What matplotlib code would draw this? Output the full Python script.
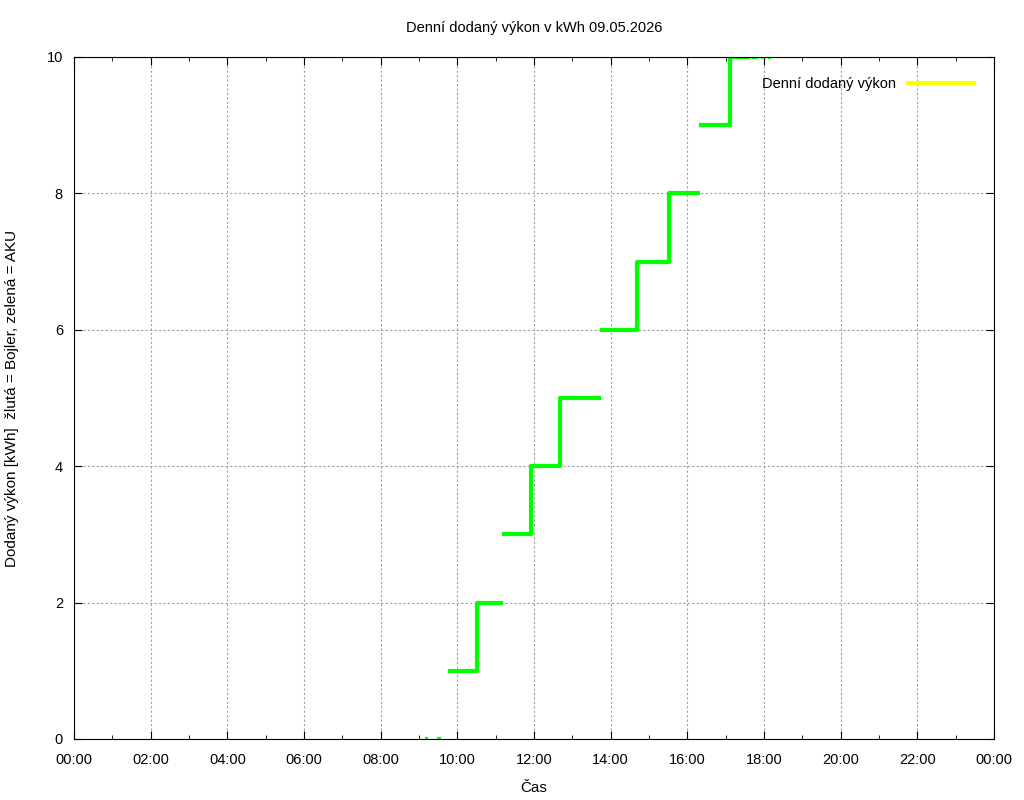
import numpy as np
import matplotlib
matplotlib.use('Agg')
import matplotlib.pyplot as plt

plt.rcParams['font.family'] = ['Liberation Sans', 'DejaVu Sans']

# step groups: times in hours, values in kWh (NaN breaks the line)
times = [9.16, 9.24, np.nan,
         9.47, 9.57, np.nan,
         9.76, 10.51, 11.19, np.nan,
         11.17, 11.92, 12.68, 13.75, np.nan,
         13.72, 14.69, 15.52, 16.33, np.nan,
         16.30, 17.11, 17.63, np.nan,
         17.70, 17.85, np.nan,
         17.93, 17.98, np.nan,
         18.10, 18.18]
values = [0, 0, np.nan,
          0, 0, np.nan,
          1, 2, 2, np.nan,
          3, 4, 5, 5, np.nan,
          6, 7, 8, 8, np.nan,
          9, 10, 10, np.nan,
          10, 10, np.nan,
          10, 10, np.nan,
          10, 10]
tick_hours = list(range(0, 25, 2))
tick_labels = ['%02d:00' % (h % 24) for h in tick_hours]

fig = plt.figure(figsize=(10.24, 8.0), dpi=100)
ax = fig.add_axes([74/1024, 61/800, 920/1024, 682/800])

ax.plot(times, values, color='#00ff00', lw=3, drawstyle='steps-post', solid_capstyle='butt')
ax.plot([], [], color='#ffff00', lw=3, label='Denní dodaný výkon')

ax.set_xlim(0, 24)
ax.set_ylim(0, 10)
ax.set_xticks(tick_hours)
ax.set_xticklabels(tick_labels)
ax.set_xticks(range(1, 24, 2), minor=True)
ax.set_yticks(range(0, 11, 2))
ax.tick_params(direction='in', which='both', top=True, right=True, labelsize=10.5)
ax.tick_params(which='major', length=6)
ax.tick_params(which='minor', length=3)
ax.tick_params(axis='x', pad=10)
ax.tick_params(axis='y', pad=8)
ax.grid(True, which='major', color='#a0a0a0', linestyle=(0, (2, 2)), lw=0.8)

ax.set_xlabel('Čas', fontsize=11, labelpad=10)
ax.set_ylabel('Dodaný výkon [kWh]  žlutá = Bojler, zelená = AKU', fontsize=11, labelpad=20)
ax.set_title('Denní dodaný výkon v kWh 09.05.2026', fontsize=10.5, pad=18)

leg = ax.legend(loc='upper right', frameon=False, markerfirst=False, handlelength=4.5,
                handletextpad=0.8, fontsize=10.5, borderaxespad=1.0)

fig.savefig('out.png')
